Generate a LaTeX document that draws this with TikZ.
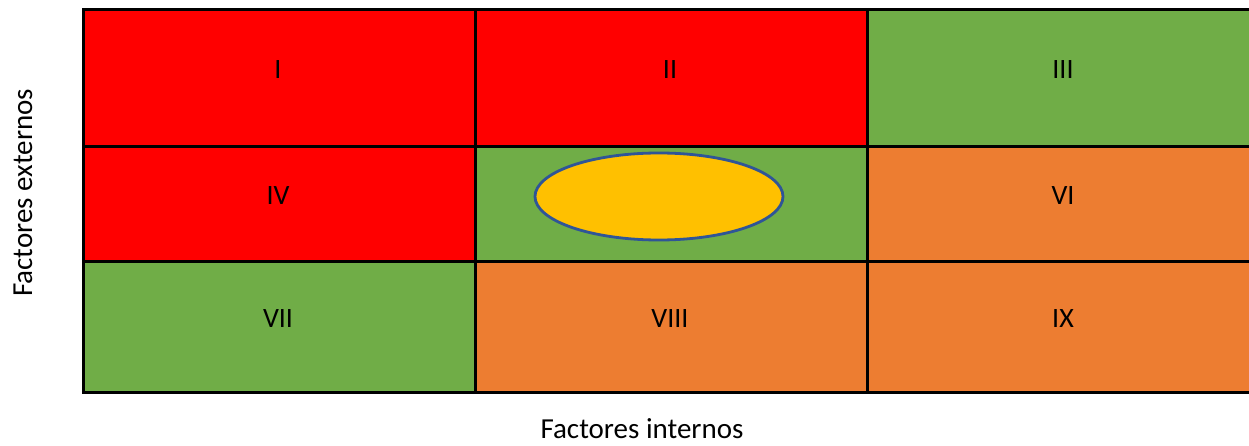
\documentclass[tikz,border=0pt]{standalone}
\usepackage{fontspec}
\setmainfont{Carlito}
\definecolor{cred}{HTML}{FF0000}
\definecolor{cgreen}{HTML}{70AD47}
\definecolor{corange}{HTML}{ED7D31}
\definecolor{cyellow}{HTML}{FFC000}
\definecolor{cblue}{HTML}{2F5597}
\begin{document}
\begin{tikzpicture}[x=1pt,y=-1pt,
  cell/.style={draw=black,line width=3pt,rectangle,inner sep=0pt},
  lbl/.style={font=\fontsize{28}{32}\selectfont,inner sep=0pt,anchor=base},
  axis/.style={font=\fontsize{29}{34}\selectfont,inner sep=0pt,anchor=base}]
\useasboundingbox (0,0) rectangle (1249,446);
% cells
\path[cell,fill=cred]    (83,10)  rectangle (475,147);
\path[cell,fill=cred]    (475,10) rectangle (867,147);
\path[cell,fill=cgreen]  (867,10) rectangle (1262,147);
\path[cell,fill=cred]    (83,147) rectangle (475,261);
\path[cell,fill=cgreen]  (475,147) rectangle (867,261);
\path[cell,fill=corange] (867,147) rectangle (1262,261);
\path[cell,fill=cgreen]  (83,261) rectangle (475,392);
\path[cell,fill=corange] (475,261) rectangle (867,392);
\path[cell,fill=corange] (867,261) rectangle (1262,392);
% labels
\node[lbl] (l1) at (278,79) {I};
\node[lbl] (l2) at (670,79) {II};
\node[lbl] (l3) at (1063,79) {III};
\node[lbl] (l4) at (278,205) {IV};
\node[lbl] (l6) at (1063,205) {VI};
\node[lbl] (l7) at (278,327) {VII};
\node[lbl] (l8) at (670,327) {VIII};
\node[lbl] (l9) at (1063,327) {IX};
% ellipse
\draw[draw=cblue,fill=cyellow,line width=2.8pt] (659,196.5) ellipse [x radius=124,y radius=43.5];
% axis titles
\node[axis,rotate=90] (ext) at (32,193) {Factores externos};
\node[axis] (int) at (642,438) {Factores internos};
\end{tikzpicture}
\end{document}
